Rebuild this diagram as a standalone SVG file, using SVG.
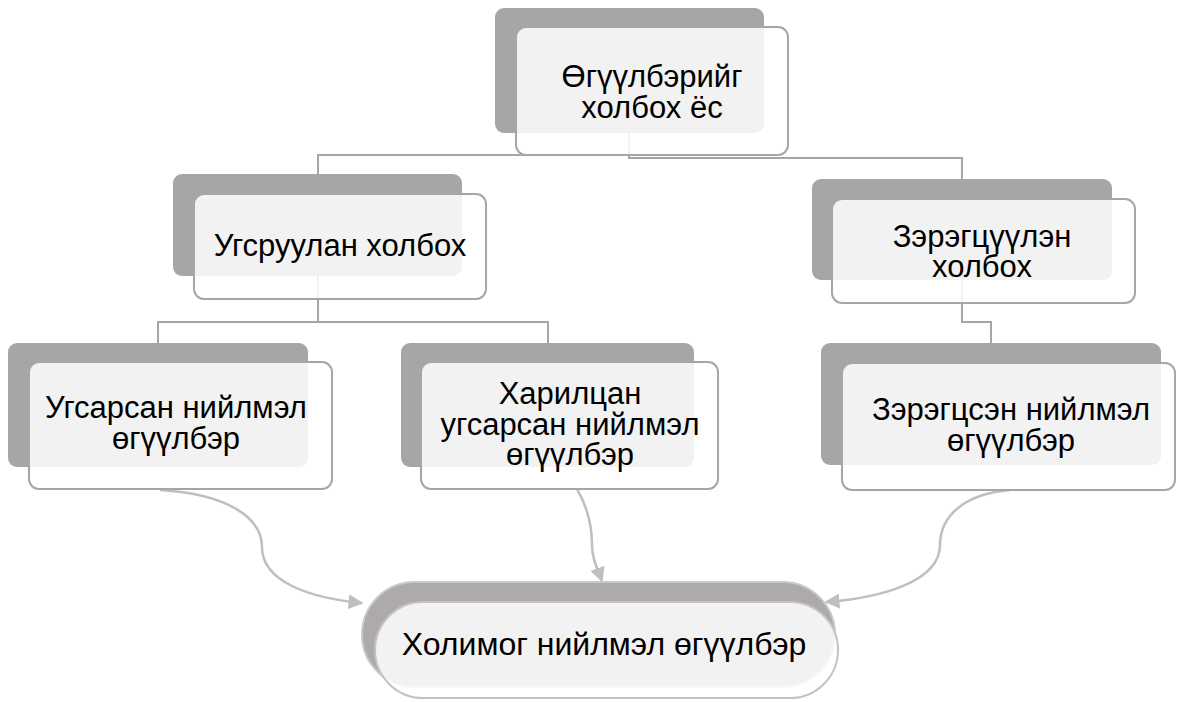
<svg xmlns="http://www.w3.org/2000/svg" width="1177" height="702" viewBox="0 0 1177 702">
<defs>
<marker id="ah2" viewBox="0 0 10 10" refX="9" refY="5" markerWidth="15" markerHeight="15" markerUnits="userSpaceOnUse" orient="auto">
<path d="M0,0 L10,5 L0,10 Z" fill="#bfbfbf"/>
</marker>
<style>
.back{fill:#a6a6a6;}
.front{fill:#ffffff;fill-opacity:0.85;stroke:#a6a6a6;stroke-width:2;}
.conn{fill:none;stroke:#a6a6a6;stroke-width:2;}
.arr{fill:none;stroke:#bfbfbf;stroke-width:2.5;}
.t{font-family:"Liberation Sans",Arial,sans-serif;font-size:31px;fill:#000;text-anchor:middle;}
</style>
</defs>
<rect width="1177" height="702" fill="#ffffff"/>
<g id="connectors">
<path class="conn" d="M629,133 V155 H318 V174"/>
<path class="conn" d="M629,133 V158 H962 V179"/>
<path class="conn" d="M318,276 V322 H158 V343"/>
<path class="conn" d="M318,276 V322 H548 V343"/>
<path class="conn" d="M962,280 V322 H991 V343"/>
<path class="arr" marker-end="url(#ah2)" d="M160,490 C228,494 262,518 262,547 C262,582 310,598 362,603"/>
<path class="arr" marker-end="url(#ah2)" d="M577,489 C588,508 592,528 592,545 C592,560 598,570 602,581"/>
<path class="arr" marker-end="url(#ah2)" d="M1010,490 C962,494 940,518 940,545 C940,582 880,598 826,602"/>
</g>
<g id="node-top">
<rect class="back" x="495" y="8" width="269" height="125" rx="9"/>
<rect class="front" x="516" y="27" width="272" height="128" rx="10"/>
<text class="t" x="652" y="87">Өгүүлбэрийг</text>
<text class="t" x="652" y="118">холбох ёс</text>
</g>
<g id="node-ugsruulan">
<rect class="back" x="173" y="174" width="289" height="102" rx="9"/>
<rect class="front" x="194" y="194" width="292" height="105" rx="10"/>
<text class="t" x="340" y="256">Угсруулан холбох</text>
</g>
<g id="node-zeregtsuulen">
<rect class="back" x="812" y="179" width="300" height="101" rx="9"/>
<rect class="front" x="832" y="199" width="303" height="104" rx="10"/>
<text class="t" x="982" y="247">Зэрэгцүүлэн</text>
<text class="t" x="982" y="277">холбох</text>
</g>
<g id="node-ugsarsan">
<rect class="back" x="8" y="343" width="300" height="124" rx="9"/>
<rect class="front" x="29" y="362" width="303" height="127" rx="10"/>
<text class="t" x="176" y="418">Угсарсан нийлмэл</text>
<text class="t" x="176" y="449">өгүүлбэр</text>
</g>
<g id="node-kharilstan">
<rect class="back" x="401" y="343" width="293" height="124" rx="9"/>
<rect class="front" x="421" y="362" width="297" height="127" rx="10"/>
<text class="t" x="570" y="404">Харилцан</text>
<text class="t" x="570" y="435">угсарсан нийлмэл</text>
<text class="t" x="570" y="465">өгүүлбэр</text>
</g>
<g id="node-zeregtssen">
<rect class="back" x="821" y="343" width="340" height="122" rx="9"/>
<rect class="front" x="842" y="363" width="333" height="127" rx="10"/>
<text class="t" x="1011" y="420">Зэрэгцсэн нийлмэл</text>
<text class="t" x="1011" y="451">өгүүлбэр</text>
</g>
<g id="node-kholimog">
<rect x="362" y="582" width="473" height="105" rx="52.5" fill="#aeaaaa" stroke="#c9c9c9" stroke-width="2"/>
<rect x="375" y="602" width="463" height="96" rx="48" fill="#ffffff" fill-opacity="0.85" stroke="#c3c3c3" stroke-width="2"/>
<text class="t" x="604" y="655" style="font-size:32px">Холимог нийлмэл өгүүлбэр</text>
</g>
</svg>
